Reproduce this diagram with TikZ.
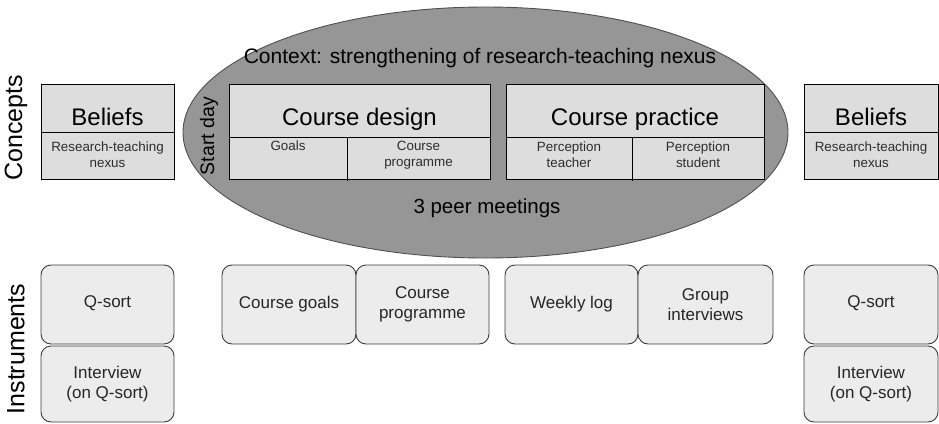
\documentclass[tikz,border=0pt]{standalone}
\usepackage{fontspec}
\setmainfont{Liberation Sans}
\usetikzlibrary{shapes.geometric}
\definecolor{ctxgray}{RGB}{150,150,150}
\definecolor{ctxedge}{RGB}{80,80,80}
\definecolor{boxgray}{RGB}{221,221,221}
\definecolor{instgray}{RGB}{236,236,236}
\definecolor{instedge}{RGB}{60,60,60}
\definecolor{subtext}{RGB}{45,45,45}
\newcommand{\px}[2]{\fontsize{#1}{#2}\selectfont}
\tikzset{
	cbox/.style={draw=black,fill=boxgray,line width=0.9pt},
	ibox/.style={draw=instedge,fill=instgray,line width=0.9pt,rounded corners=10pt,align=center,inner sep=0pt,text=black!85,font=\px{17}{20}},
	ctitle/.style={font=\px{24}{26}},
	csub/.style={font=\px{13.4}{16},text=subtext,align=center,inner sep=0pt},
	side/.style={font=\px{25}{27},rotate=90}
}
\begin{document}
\begin{tikzpicture} [x=1pt,y=-1pt]
		\useasboundingbox (0,0) rectangle (939,423);
		% context ellipse
		\node (context) [ellipse,draw=ctxedge,fill=ctxgray,line width=0.9pt,minimum width=605pt,minimum height=251pt,inner sep=0pt] at (485.5,132.5) {};
		\node (ctxtext) at (480,58) {\px{21}{23}Context: strengthening of research-teaching nexus};
		\node (peer) at (487,208) {\px{20.5}{22}3 peer meetings};
		\node (startday) [rotate=90] at (209,136) {\px{19.5}{21}Start day};
		% concepts
		\draw [cbox] (41,84) rectangle (174,179);
		\draw [line width=0.9pt] (41,132) -- (174,132);
		\draw [cbox] (229,84) rectangle (490,179);
		\draw [line width=0.9pt] (229,137) -- (490,137);
		\draw [line width=0.9pt] (347,137) -- (347,181);
		\draw [cbox] (506,84) rectangle (764,179);
		\draw [line width=0.9pt] (506,137) -- (764,137);
		\draw [line width=0.9pt] (632,137) -- (632,181);
		\draw [cbox] (804,84) rectangle (938,179);
		\draw [line width=0.9pt] (804,132) -- (938,132);
		\node (beliefsL) [ctitle] at (107.5,117) {Beliefs};
		\node (nexusL) [csub] at (107.5,155) {Research-teaching\\nexus};
		\node (design) [ctitle] at (359.5,119) {Course design};
		\node (goals) [csub] at (288,146) {Goals};
		\node (programme) [csub] at (418.5,155) {Course\\programme};
		\node (practice) [ctitle] at (635,119) {Course practice};
		\node (teacher) [csub] at (569,155) {Perception\\teacher};
		\node (student) [csub] at (698,155) {Perception\\student};
		\node (beliefsR) [ctitle] at (871,117) {Beliefs};
		\node (nexusR) [csub] at (871,155) {Research-teaching\\nexus};
		% instruments
		\node (qsortL) [ibox,minimum width=133pt,minimum height=79pt] at (107.5,304.5) {\raisebox{6pt}{Q-sort}};
		\node (interviewL) [ibox,minimum width=133pt,minimum height=76pt] at (107.5,384) {Interview\\(on Q-sort)};
		\node (coursegoals) [ibox,minimum width=134pt,minimum height=79pt] at (289,304.5) {Course goals};
		\node (courseprog) [ibox,minimum width=133pt,minimum height=79pt] at (422.5,304.5) {Course\\programme};
		\node (weeklylog) [ibox,minimum width=133pt,minimum height=79pt] at (571.5,304.5) {Weekly log};
		\node (groupint) [ibox,minimum width=135pt,minimum height=79pt] at (705.5,304.5) {Group\\interviews};
		\node (qsortR) [ibox,minimum width=134pt,minimum height=79pt] at (871,304.5) {\raisebox{6pt}{Q-sort}};
		\node (interviewR) [ibox,minimum width=134pt,minimum height=76pt] at (871,384) {Interview\\(on Q-sort)};
		% row labels
		\node (concepts) [side] at (16,128) {Concepts};
		\node (instruments) [side] at (16,349) {Instruments};
	\end{tikzpicture}
\end{document}
